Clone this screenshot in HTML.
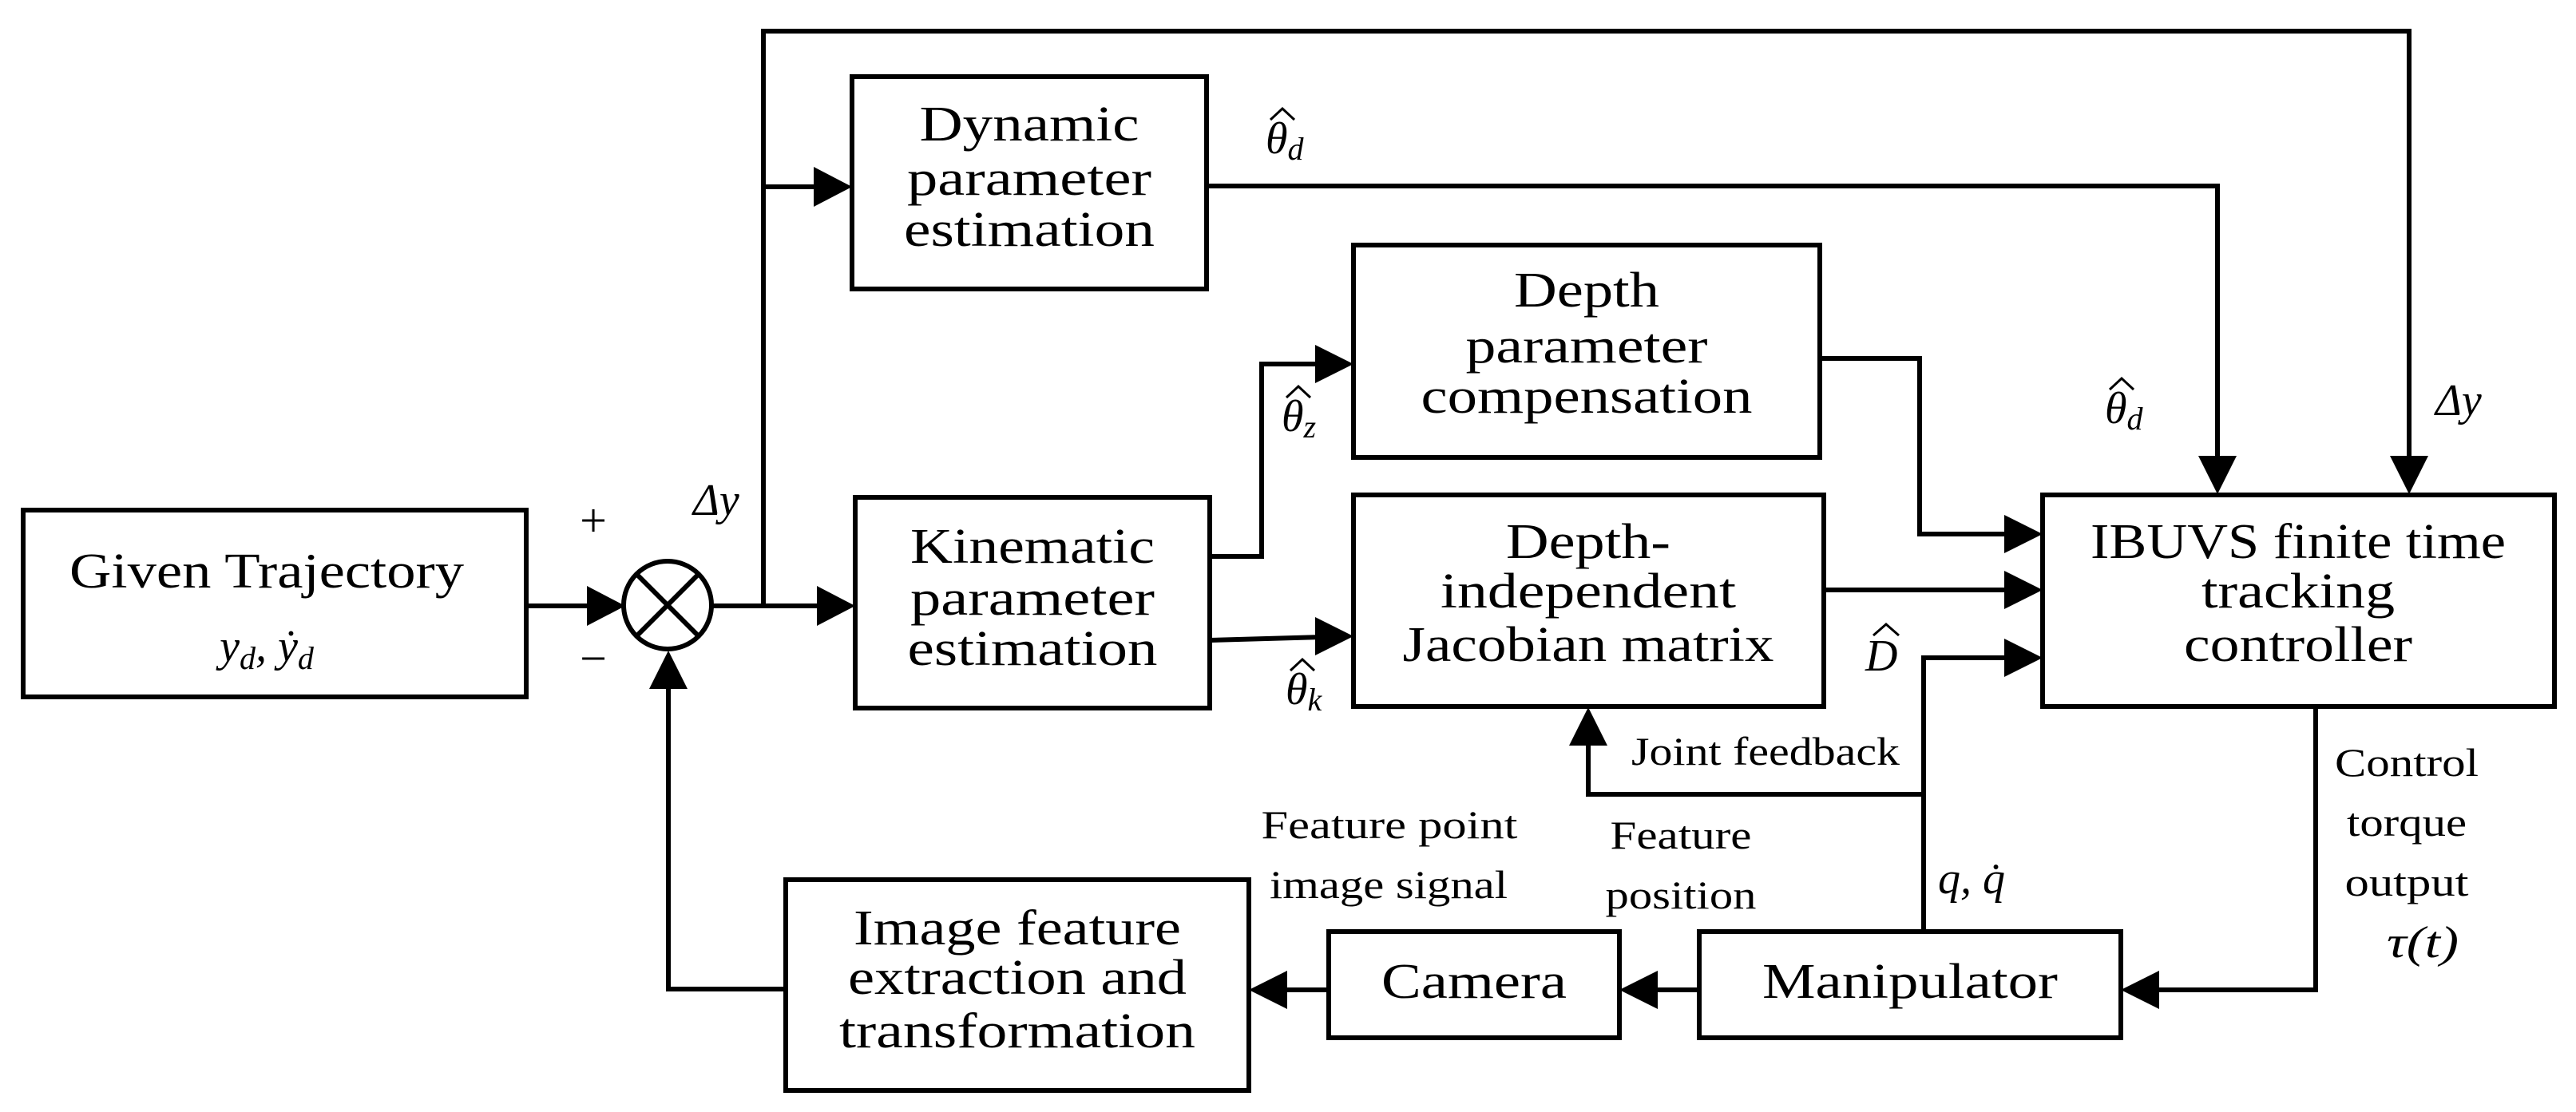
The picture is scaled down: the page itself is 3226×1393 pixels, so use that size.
<!DOCTYPE html>
<html><head><meta charset="utf-8"><style>
html,body{margin:0;padding:0;background:#fff;}
svg{display:block;}
text{font-family:"Liberation Serif","DejaVu Serif",serif;fill:#000;}
.b{font-size:62px;}
.s{font-size:50px;}
.m{font-style:italic;font-size:56px;}
.sub{font-size:40px;font-style:italic;}
</style></head><body>
<svg width="3226" height="1393" viewBox="0 0 3226 1393" xmlns="http://www.w3.org/2000/svg">
<g fill="none" stroke="#000" stroke-width="6">
<rect x="29" y="639" width="630" height="234"/>
<rect x="1067" y="96" width="444" height="266"/>
<rect x="1071" y="623" width="444" height="264"/>
<rect x="1695" y="307" width="584" height="266"/>
<rect x="1695" y="620" width="589" height="265"/>
<rect x="2558" y="620" width="641" height="265"/>
<rect x="984" y="1102" width="580" height="264"/>
<rect x="1664" y="1167" width="364" height="133"/>
<rect x="2128" y="1167" width="528" height="133"/>
<circle cx="836" cy="758" r="55"/>
<line x1="797" y1="719" x2="875" y2="797"/>
<line x1="875" y1="719" x2="797" y2="797"/>
<polyline points="659,759 735,759"/>
<polyline points="891,759 1030,759"/>
<polyline points="956,759 956,39 3017,39 3017,575"/>
<polyline points="956,234 1025,234"/>
<polyline points="1511,233 2777,233 2777,575"/>
<polyline points="1515,697 1580,697 1580,456 1655,456"/>
<polyline points="1515,802 1655,798"/>
<polyline points="2279,449 2404,449 2404,669 2515,669"/>
<polyline points="2284,739 2515,739"/>
<polyline points="2409,1167 2409,824 2515,824"/>
<polyline points="2409,995 1989,995 1989,925"/>
<polyline points="2900,885 2900,1240 2696,1240"/>
<polyline points="2128,1240 2068,1240"/>
<polyline points="1664,1240 1604,1240"/>
<polyline points="984,1239 837,1239 837,860"/>
</g>
<g fill="#000">
<polygon points="783,759 735,734 735,784"/>
<polygon points="1071,759 1023,734 1023,784"/>
<polygon points="1067,234 1019,209 1019,259"/>
<polygon points="1695,456 1647,432 1647,480"/>
<polygon points="1695,797 1647,773 1647,821"/>
<polygon points="2558,669 2510,645 2510,693"/>
<polygon points="2558,739 2510,715 2510,763"/>
<polygon points="2558,824 2510,800 2510,848"/>
<polygon points="2777,619 2753,571 2801,571"/>
<polygon points="3017,619 2993,571 3041,571"/>
<polygon points="1989,886 1965,934 2013,934"/>
<polygon points="837,815 813,863 861,863"/>
<polygon points="2656,1240 2704,1216 2704,1264"/>
<polygon points="2028,1240 2076,1216 2076,1264"/>
<polygon points="1564,1240 1612,1216 1612,1264"/>
</g>
<text class="b" x="334" y="736" text-anchor="middle" textLength="494" lengthAdjust="spacingAndGlyphs">Given Trajectory</text>
<text class="m" x="334" y="828" text-anchor="middle">y<tspan class="sub" dy="10">d</tspan><tspan dy="-10">, ẏ</tspan><tspan class="sub" dy="10">d</tspan></text>
<text class="b" x="1289" y="176" text-anchor="middle" textLength="275" lengthAdjust="spacingAndGlyphs">Dynamic</text>
<text class="b" x="1289" y="244" text-anchor="middle" textLength="306" lengthAdjust="spacingAndGlyphs">parameter</text>
<text class="b" x="1289" y="308" text-anchor="middle" textLength="314" lengthAdjust="spacingAndGlyphs">estimation</text>
<text class="b" x="1293" y="705" text-anchor="middle" textLength="306" lengthAdjust="spacingAndGlyphs">Kinematic</text>
<text class="b" x="1293" y="770" text-anchor="middle" textLength="306" lengthAdjust="spacingAndGlyphs">parameter</text>
<text class="b" x="1293" y="833" text-anchor="middle" textLength="313" lengthAdjust="spacingAndGlyphs">estimation</text>
<text class="b" x="1987" y="384" text-anchor="middle" textLength="182" lengthAdjust="spacingAndGlyphs">Depth</text>
<text class="b" x="1987" y="454" text-anchor="middle" textLength="303" lengthAdjust="spacingAndGlyphs">parameter</text>
<text class="b" x="1987" y="517" text-anchor="middle" textLength="415" lengthAdjust="spacingAndGlyphs">compensation</text>
<text class="b" x="1989" y="699" text-anchor="middle" textLength="206" lengthAdjust="spacingAndGlyphs">Depth-</text>
<text class="b" x="1989" y="761" text-anchor="middle" textLength="370" lengthAdjust="spacingAndGlyphs">independent</text>
<text class="b" x="1989" y="828" text-anchor="middle" textLength="465" lengthAdjust="spacingAndGlyphs">Jacobian matrix</text>
<text class="b" x="2878" y="699" text-anchor="middle" textLength="520" lengthAdjust="spacingAndGlyphs">IBUVS finite time</text>
<text class="b" x="2878" y="761" text-anchor="middle" textLength="242" lengthAdjust="spacingAndGlyphs">tracking</text>
<text class="b" x="2878" y="828" text-anchor="middle" textLength="286" lengthAdjust="spacingAndGlyphs">controller</text>
<text class="b" x="1274" y="1183" text-anchor="middle" textLength="410" lengthAdjust="spacingAndGlyphs">Image feature</text>
<text class="b" x="1274" y="1245" text-anchor="middle" textLength="424" lengthAdjust="spacingAndGlyphs">extraction and</text>
<text class="b" x="1274" y="1312" text-anchor="middle" textLength="446" lengthAdjust="spacingAndGlyphs">transformation</text>
<text class="b" x="1846" y="1250" text-anchor="middle" textLength="232" lengthAdjust="spacingAndGlyphs">Camera</text>
<text class="b" x="2392" y="1250" text-anchor="middle" textLength="370" lengthAdjust="spacingAndGlyphs">Manipulator</text>
<text class="s" x="2043" y="958" textLength="336" lengthAdjust="spacingAndGlyphs">Joint feedback</text>
<text class="s" x="1740" y="1050" text-anchor="middle" textLength="321" lengthAdjust="spacingAndGlyphs">Feature point</text>
<text class="s" x="1739" y="1125" text-anchor="middle" textLength="298" lengthAdjust="spacingAndGlyphs">image signal</text>
<text class="s" x="2105" y="1063" text-anchor="middle" textLength="177" lengthAdjust="spacingAndGlyphs">Feature</text>
<text class="s" x="2105" y="1138" text-anchor="middle" textLength="189" lengthAdjust="spacingAndGlyphs">position</text>
<text class="s" x="3014" y="972" text-anchor="middle" textLength="180" lengthAdjust="spacingAndGlyphs">Control</text>
<text class="s" x="3014" y="1047" text-anchor="middle" textLength="150" lengthAdjust="spacingAndGlyphs">torque</text>
<text class="s" x="3014" y="1122" text-anchor="middle" textLength="155" lengthAdjust="spacingAndGlyphs">output</text>
<text class="m" x="3034" y="1199" text-anchor="middle" textLength="90" lengthAdjust="spacingAndGlyphs">τ(t)</text>
<text style="font-size:60px" x="743" y="672" text-anchor="middle">+</text>
<text style="font-size:60px" x="743" y="845" text-anchor="middle">−</text>
<text class="m" x="868" y="645">Δy</text>
<text class="m" x="3050" y="520">Δy</text>
<text class="m" x="1585" y="192">θ<tspan class="sub" dy="8">d</tspan></text>
<text class="m" x="2636" y="530">θ<tspan class="sub" dy="8">d</tspan></text>
<text class="m" x="1605" y="540">θ<tspan class="sub" dy="8">z</tspan></text>
<text class="m" x="1610" y="882">θ<tspan class="sub" dy="8">k</tspan></text>
<text class="m" x="2336" y="840">D</text>
<text class="m" x="2427" y="1119">q, q̇</text>
<g fill="none" stroke="#000" stroke-width="3">
<polyline points="1591,150 1606,136 1621,150"/>
<polyline points="2642,488 2657,474 2672,488"/>
<polyline points="1611,498 1626,484 1641,498"/>
<polyline points="1616,840 1631,826 1646,840"/>
<polyline points="2346,796 2362,782 2378,796"/>
</g>
</svg>
</body></html>
